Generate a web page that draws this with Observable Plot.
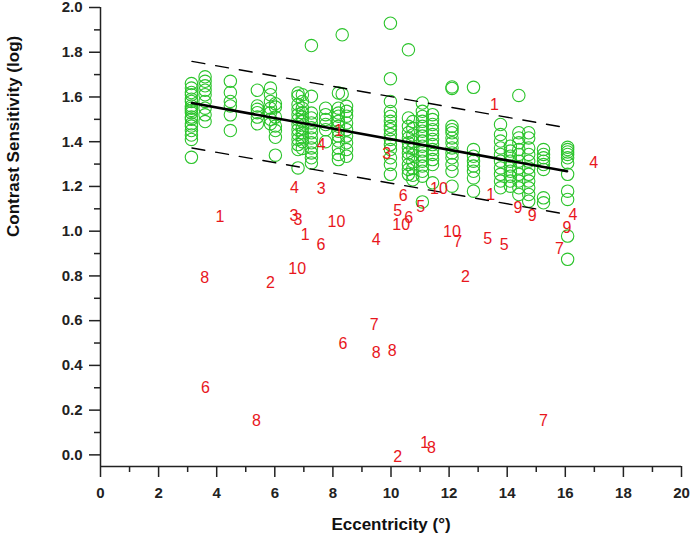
<!DOCTYPE html>
<html>
<head>
<meta charset="utf-8">
<script src="https://cdn.jsdelivr.net/npm/d3@7"></script>
<script src="https://cdn.jsdelivr.net/npm/@observablehq/plot@0.6"></script>
<style>
  html, body { margin: 0; padding: 0; background: #fff; }
</style>
</head>
<body>
<div id="chart"></div>
<script>
// ---- Tick values ----
const xMajor = [0, 2, 4, 6, 8, 10, 12, 14, 16, 18, 20];
const xMinor = [1, 3, 5, 7, 9, 11, 13, 15, 17, 19];
const yMajor = [0, 0.2, 0.4, 0.6, 0.8, 1.0, 1.2, 1.4, 1.6, 1.8, 2.0];
const yMinor = [0.1, 0.3, 0.5, 0.7, 0.9, 1.1, 1.3, 1.5, 1.7, 1.9];
const yMin = -0.052;

// ---- Green circles: eccentricity of each column and its values ----
const colX = [3.13, 3.6, 4.47, 5.4, 5.85, 6.02, 6.8, 6.95, 7.26, 7.75, 8.19, 8.47,
              9.98, 10.6, 10.75, 11.08, 11.43, 12.1, 12.84, 13.77, 14.11, 14.4, 14.74, 15.25, 16.08];
const colY = [
  [1.66, 1.64, 1.62, 1.61, 1.59, 1.58, 1.56, 1.55, 1.54, 1.53, 1.51, 1.50, 1.48, 1.47, 1.45, 1.43, 1.41, 1.33],
  [1.69, 1.67, 1.65, 1.63, 1.61, 1.58, 1.55, 1.52, 1.49],
  [1.67, 1.62, 1.58, 1.56, 1.52, 1.45],
  [1.63, 1.56, 1.545, 1.53, 1.51, 1.48],
  [1.64, 1.61, 1.58, 1.55, 1.53, 1.50, 1.48],
  [1.57, 1.555, 1.51, 1.47, 1.45, 1.42, 1.34],
  [1.618, 1.603, 1.566, 1.544, 1.521, 1.499, 1.477, 1.454, 1.432, 1.41, 1.387, 1.365, 1.283],
  [1.61, 1.58, 1.55, 1.53, 1.51, 1.49, 1.46, 1.44, 1.42, 1.40, 1.37],
  [1.83, 1.603, 1.528, 1.506, 1.484, 1.462, 1.44, 1.417, 1.395, 1.372, 1.35, 1.328, 1.305],
  [1.55, 1.521, 1.499, 1.477, 1.454, 1.40],
  [1.618, 1.55, 1.528, 1.514, 1.491, 1.469, 1.447, 1.425, 1.403, 1.372, 1.343, 1.32],
  [1.558, 1.536, 1.514, 1.484, 1.454, 1.425, 1.395, 1.365, 1.335],
  [1.93, 1.682, 1.58, 1.535, 1.513, 1.491, 1.469, 1.454, 1.432, 1.41, 1.387, 1.365, 1.328, 1.298, 1.254],
  [1.811, 1.506, 1.469, 1.44, 1.417, 1.395, 1.373, 1.35, 1.328, 1.298, 1.276, 1.254],
  [1.49, 1.46, 1.43, 1.40, 1.37, 1.34, 1.31, 1.28, 1.25, 1.23],
  [1.573, 1.536, 1.513, 1.491, 1.469, 1.447, 1.425, 1.403, 1.38, 1.358, 1.335, 1.313, 1.291, 1.268, 1.246, 1.131],
  [1.521, 1.499, 1.477, 1.454, 1.432, 1.41, 1.387, 1.365, 1.343, 1.32, 1.298, 1.216],
  [1.645, 1.638, 1.469, 1.454, 1.44, 1.417, 1.395, 1.372, 1.35, 1.328, 1.298, 1.268, 1.201],
  [1.643, 1.365, 1.335, 1.313, 1.291, 1.268, 1.238, 1.179],
  [1.477, 1.432, 1.403, 1.372, 1.343, 1.313, 1.283, 1.254, 1.224, 1.194],
  [1.38, 1.358, 1.335, 1.313, 1.291, 1.268, 1.246, 1.224, 1.201],
  [1.607, 1.44, 1.417, 1.395, 1.365, 1.343, 1.313, 1.283, 1.254, 1.224, 1.194, 1.164],
  [1.44, 1.417, 1.372, 1.343, 1.313, 1.283, 1.254, 1.224, 1.194, 1.164, 1.134],
  [1.365, 1.343, 1.328, 1.313, 1.298, 1.276, 1.149, 1.127],
  [1.375, 1.365, 1.354, 1.343, 1.328, 1.305, 1.254, 1.179, 1.142, 0.978, 0.874]
];
// a few outliers that sit off their column
const extraX = [8.32, 8.32];
const extraY = [1.878, 1.613];

// ---- Regression line and dashed band ----
const fitX = [3.15, 16.06];
const fitY = [1.573, 1.268];
const upperY = [1.759, 1.462];
const lowerY = [1.372, 1.075];

// ---- Red numbered points ----
const redLabel = ["1","4","4","3","1","3","3","10","1","6","4","8","2","10","7","6","8","8","6","8","2","1","8","7",
                  "1","3","10","6","5","6","10","5","1","9","9","4","9","10","7","5","5","7","2","4"];
const redX = [8.20, 7.60, 6.68, 7.60, 4.11, 6.66, 6.80, 8.12, 7.05, 7.59, 9.49, 3.59, 5.85, 6.77, 9.42, 8.35, 9.49, 10.04, 3.61, 5.37, 10.23, 11.16, 11.39, 15.25,
              13.56, 9.85, 11.65, 10.42, 10.23, 10.61, 10.35, 11.02, 13.43, 14.37, 14.86, 16.26, 16.06, 12.1, 12.3, 13.33, 13.9, 15.8, 12.56, 16.98];
const redY = [1.447, 1.387, 1.194, 1.187, 1.063, 1.068, 1.050, 1.042, 0.983, 0.938, 0.959, 0.79, 0.77, 0.833, 0.579, 0.495, 0.458, 0.465, 0.299, 0.153, -0.008, 0.052, 0.03, 0.153,
              1.563, 1.345, 1.191, 1.157, 1.093, 1.06, 1.026, 1.109, 1.164, 1.105, 1.068, 1.072, 1.015, 0.998, 0.952, 0.964, 0.941, 0.923, 0.797, 1.305];

// ---- Build tables ----
const green = [];
colX.forEach((x, i) => colY[i].forEach(y => green.push({x, y})));
extraX.forEach((x, i) => green.push({x, y: extraY[i]}));
const fit = fitX.map((x, i) => ({x, y: fitY[i], hi: upperY[i], lo: lowerY[i]}));
const red = redLabel.map((t, i) => ({t, x: redX[i], y: redY[i]}));

const font = "Arial, 'Liberation Sans', sans-serif";
const axisColor = "#222";

const chart = Plot.plot({
  width: 690,
  height: 538,
  marginLeft: 100,
  marginRight: 9,
  marginTop: 7,
  marginBottom: 72,
  x: {domain: [0, 20], label: null},
  y: {domain: [yMin, 2], label: null},
  style: {fontFamily: font, background: "#fff", overflow: "visible"},
  marks: [
    Plot.dot(green, {x: "x", y: "y", r: 6.2, stroke: "#2bc42b", strokeWidth: 1.1, fill: "none"}),
    Plot.line(fit, {x: "x", y: "y", stroke: "#000", strokeWidth: 2.6}),
    Plot.line(fit, {x: "x", y: "hi", stroke: "#000", strokeWidth: 1.4, strokeDasharray: "13,11"}),
    Plot.line(fit, {x: "x", y: "lo", stroke: "#000", strokeWidth: 1.4, strokeDasharray: "13,11"}),
    Plot.text(red, {x: "x", y: "y", text: "t", fill: "#e8161c", fontSize: 16}),
    // axes
    Plot.ruleX([0], {stroke: axisColor, strokeWidth: 1.5}),
    Plot.ruleY([yMin], {stroke: axisColor, strokeWidth: 1.5}),
    Plot.axisY({ticks: yMajor, tickSize: 11, tickPadding: 7, tickFormat: d3.format(".1f"),
                fontSize: 15, fontWeight: "bold", color: axisColor, strokeWidth: 1.5, label: null}),
    Plot.axisY({ticks: yMinor, tickSize: 6, tickFormat: () => "", color: axisColor, strokeWidth: 1.5, label: null}),
    Plot.axisX({ticks: xMajor, tickSize: 11, tickPadding: 10, tickFormat: d3.format("d"),
                fontSize: 15, fontWeight: "bold", color: axisColor, strokeWidth: 1.5, label: null}),
    Plot.axisX({ticks: xMinor, tickSize: 6, tickFormat: () => "", color: axisColor, strokeWidth: 1.5, label: null}),
    Plot.text(["Eccentricity (°)"], {frameAnchor: "bottom", dy: 63, fontSize: 17, fontWeight: "bold", fill: "#111"}),
    Plot.text(["Contrast Sensitivity (log)"], {frameAnchor: "left", dx: -87, rotate: -90, fontSize: 17, fontWeight: "bold", fill: "#111"})
  ]
});
document.getElementById("chart").appendChild(chart);
</script>
</body>
</html>
